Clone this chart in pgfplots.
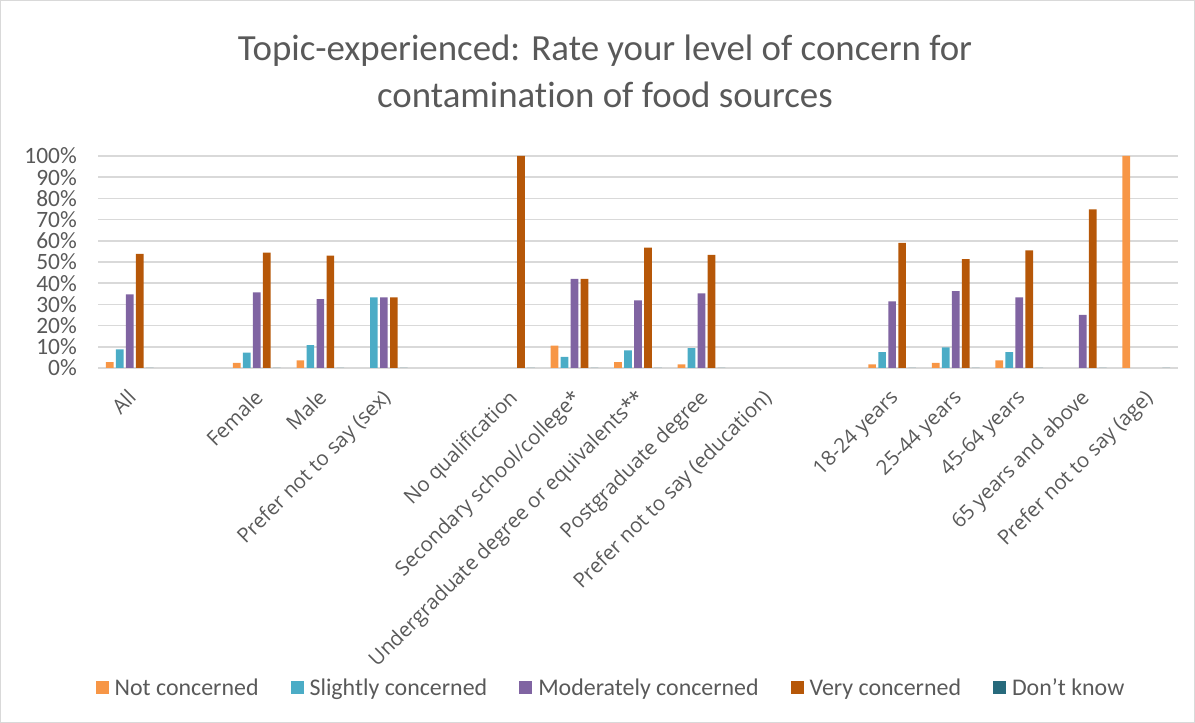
\documentclass[border=0pt]{standalone}
\usepackage{pgfplots}
\pgfplotsset{compat=1.18}
\usepackage{fontspec}
\setmainfont[Ligatures=NoCommon]{Carlito}
\newfontfamily\labfont{Open Sans}
\definecolor{cNot}{HTML}{F79646}
\definecolor{cSl}{HTML}{4BACC6}
\definecolor{cMod}{HTML}{8064A2}
\definecolor{cVery}{HTML}{B65708}
\definecolor{cDK}{HTML}{276A7C}
\definecolor{txt}{HTML}{595959}
\definecolor{gridc}{HTML}{D9D9D9}
\begin{document}
\begin{tikzpicture}[x=1bp,y=1bp]
\draw[gridc, line width=1bp] (0.5,0.5) rectangle (1194.5,722.5);
\node[txt, font=\fontsize{37}{47}\selectfont, align=center] at (605,652) {Topic-experienced: Rate your level of concern for\\contamination of food sources};
\begin{axis}[
  at={(98bp,355bp)}, anchor=south west,
  scale only axis, width=1080bp, height=212bp,
  xmin=-0.5, xmax=16.5, ymin=0, ymax=100,
  axis line style={draw=none},
  tick style={draw=none},
  ymajorgrids, grid style={gridc, line width=1.5bp},
  ytick={0,10,...,100},
  yticklabels={0\%,10\%,20\%,30\%,40\%,50\%,60\%,70\%,80\%,90\%,100\%},
  yticklabel style={txt, font=\fontsize{23.5}{23.5}\selectfont, inner sep=0bp, xshift=-21bp},
  xtick={0,...,16},
  xticklabels={All,,Female,Male,Prefer not to say (sex),,No qualification,Secondary school/college*,Undergraduate degree or equivalents**,Postgraduate degree,Prefer not to say (education),,18-24 years,25-44 years,45-64 years,65 years and above,Prefer not to say (age)},
  xticklabel style={txt, font=\labfont\fontsize{20.5}{20.5}\selectfont, rotate=45, anchor=north east, inner sep=1bp, xshift=-12.5bp, yshift=-7.5bp},
  ybar=2.3bp, bar width=7.7bp,
  legend columns=-1,
  legend style={at={(0.475,-1.509)}, anchor=center, draw=none, fill=none,
     font=\fontsize{24}{24}\selectfont, text=txt,
     /tikz/every even column/.append style={column sep=30bp}},
  legend image code/.code={\fill[#1] (0bp,-6.5bp) rectangle (13bp,6.5bp); \path (17bp,0bp);},
]
\addplot[fill=cNot, draw=none] coordinates {(0,2.8) (2,2.4) (3,3.6) (7,10.5) (8,2.8) (9,1.7) (12,1.7) (13,2.4) (14,3.6) (16,100)};
\addplot[fill=cSl, draw=none] coordinates {(0,8.8) (2,7.2) (3,10.8) (4,33.3) (7,5.2) (8,8.3) (9,9.4) (12,7.5) (13,9.7) (14,7.5)};
\addplot[fill=cMod, draw=none] coordinates {(0,34.7) (2,35.7) (3,32.5) (4,33.3) (7,42.0) (8,31.9) (9,35.2) (12,31.4) (13,36.2) (14,33.3) (15,25.0)};
\addplot[fill=cVery, draw=none] coordinates {(0,53.8) (2,54.4) (3,53.0) (4,33.3) (6,100) (7,42.0) (8,56.8) (9,53.3) (12,59.0) (13,51.4) (14,55.5) (15,74.8)};
\addplot[fill=cDK, draw=none] coordinates {(0,0) (2,0) (3,0) (4,0) (6,0) (7,0) (8,0) (9,0) (12,0) (13,0) (14,0) (15,0) (16,0)};
\legend{Not concerned,Slightly concerned,Moderately concerned,Very concerned,Don't know}
\end{axis}
\end{tikzpicture}
\end{document}
